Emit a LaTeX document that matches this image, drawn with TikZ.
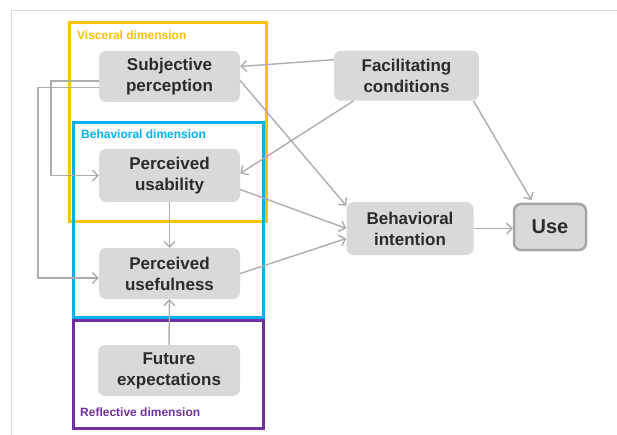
\documentclass[tikz,border=0pt]{standalone}
\usepackage{fontspec}
\setmainfont{Liberation Sans}
\usetikzlibrary{arrows.meta}
\definecolor{boxfill}{HTML}{D9D9D9}
\definecolor{txt}{HTML}{2B2B2B}
\definecolor{conn}{HTML}{ADADAD}
\definecolor{vis}{HTML}{FFC000}
\definecolor{beh}{HTML}{00B0F0}
\definecolor{refl}{HTML}{7030A0}
\definecolor{frame}{HTML}{D9D9D9}
\definecolor{useborder}{HTML}{A6A6A6}
\tikzset{
  concept/.style={fill=boxfill, rounded corners=7pt, align=center, text=txt,
    font=\fontsize{17}{21}\selectfont\bfseries, inner sep=0pt},
  dimlabel/.style={anchor=west, inner sep=0pt, font=\fontsize{12}{14}\selectfont\bfseries},
  dimbox/.style={line width=3pt},
  link/.style={draw=conn, line width=1.4pt, -{Straight Barb[length=5.5pt,width=11pt]}},
}
\begin{document}
\begin{tikzpicture}[x=1pt,y=-1pt]
\useasboundingbox (0,0) rectangle (617,435);
% outer frame
\draw[frame, line width=1pt] (11,435) coordinate (fl) -- (11,11) coordinate (ftl) -- (617,11) coordinate (ftr);
% dimension boxes
\draw[dimbox, vis] (69,23) rectangle (266,222);
\draw[dimbox, beh] (73,123) rectangle (263,317);
\draw[dimbox, refl] (73,320) rectangle (263,428);
\node[dimlabel, text=vis] (lvis) at (77,35) {Visceral dimension};
\node[dimlabel, text=beh] (lbeh) at (81,134.5) {Behavioral dimension};
\node[dimlabel, text=refl] (lref) at (80,412) {Reflective dimension};
% concept nodes
\node[concept, minimum width=141pt, minimum height=51pt] (sp) at (169.5,76.5) {Subjective\\perception};
\node[concept, minimum width=141pt, minimum height=53pt] (pu) at (169.5,175.5) {Perceived\\usability};
\node[concept, minimum width=141pt, minimum height=51pt] (pus) at (169.5,273.5) {Perceived\\usefulness};
\node[concept, minimum width=142pt, minimum height=51pt] (fe) at (169,370.5) {Future\\expectations};
\node[concept, minimum width=145pt, minimum height=50pt] (fc) at (406.5,75.7) {Facilitating\\conditions};
\node[concept, minimum width=127pt, minimum height=53pt] (bi) at (410,228.5) {Behavioral\\intention};
\node[concept, minimum width=72pt, minimum height=46pt, draw=useborder, line width=2.5pt,
  font=\fontsize{20}{24}\selectfont\bfseries] (use) at (550,227) {Use};
% connectors
\draw[link] ([yshift=16pt]fc.west) -- ([yshift=10pt]sp.east);
\draw[link] ([xshift=-53pt]fc.south) -- ([yshift=2pt]pu.east);
\draw[link, shorten >=3pt] ([xshift=67pt]fc.south) -- ([xshift=-17pt]use.north);
\draw[link] ([yshift=-4pt]sp.east) -- ([yshift=-4pt]bi.north west);
\draw[link] ([yshift=-14pt]pu.east) -- (bi.west);
\draw[link] (pus.east) -- ([yshift=-10pt]bi.west);
\draw[link] (bi.east) -- (bi.east -| use.west);
\draw[link] (pu.south) -- (pus.north);
\draw[link] (fe.north) -- (pus.south);
\draw[link] ([yshift=-4.5pt]sp.west) -- ++(-48,0) |- (pu.west);
\draw[link] ([yshift=-11pt]sp.west) -- ++(-61,0) |- ([yshift=-4.5pt]pus.west);
\end{tikzpicture}
\end{document}
